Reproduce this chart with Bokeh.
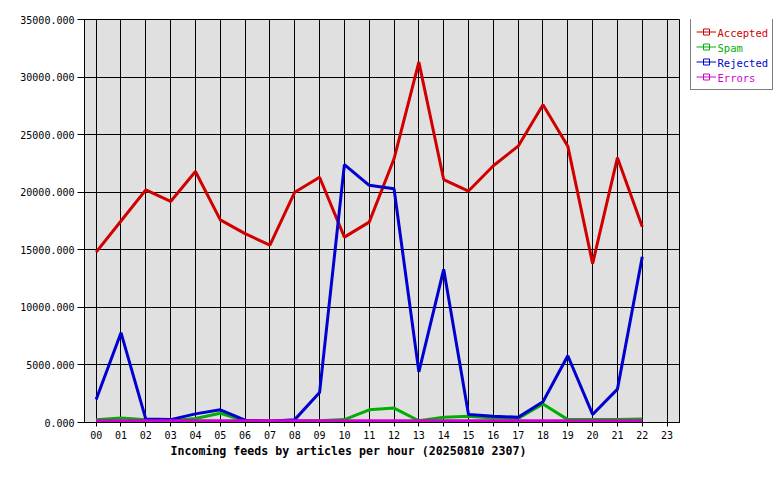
from bokeh.plotting import figure
from bokeh.layouts import row
from bokeh.models import (Range1d, FixedTicker, PrintfTickFormatter, Legend, LegendItem, Label, Title)
from bokeh.embed import file_html
from bokeh.resources import INLINE

hours = ["00", "01", "02", "03", "04", "05", "06", "07", "08", "09", "10", "11",
         "12", "13", "14", "15", "16", "17", "18", "19", "20", "21", "22", "23"]
hour_idx = list(range(23))

accepted = [14800, 17500, 20200, 19200, 21800, 17600, 16400, 15400, 20000, 21300, 16100, 17400,
            22900, 31300, 21100, 20100, 22300, 24000, 27600, 24000, 13800, 23000, 17000]
spam = [250, 400, 250, 150, 350, 800, 150, 100, 150, 150, 250, 1100,
        1250, 150, 450, 550, 400, 350, 1600, 250, 250, 250, 300]
rejected = [2000, 7800, 300, 250, 750, 1100, 200, 100, 250, 2600, 22400, 20600,
            20300, 4400, 13300, 700, 550, 450, 1800, 5800, 700, 2900, 14400]
errors = [150, 150, 150, 150, 150, 150, 150, 150, 150, 150, 150, 150,
          150, 150, 150, 150, 150, 150, 150, 150, 150, 150, 150]

series_names = ["Accepted", "Spam", "Rejected", "Errors"]
series_colors = ["#d00000", "#00b000", "#0000d0", "#d000d0"]
series_values = [accepted, spam, rejected, errors]
y_ticks = [0, 5000, 10000, 15000, 20000, 25000, 30000, 35000]
x_title = "Incoming feeds by articles per hour (20250810 2307)"

FONT = "DejaVu Sans Mono"
H = 478
TOP = 19
BOTTOM = H - 422
FH = H - TOP - BOTTOM  # frame height

p = figure(width=680, height=H, output_backend="svg", toolbar_location=None,
           x_range=Range1d(-0.47, 23.54), y_range=Range1d(0, 35000),
           min_border_left=84, min_border_right=0, min_border_top=TOP, min_border_bottom=BOTTOM)
p.background_fill_color = "#e0e0e0"
p.border_fill_color = "white"
p.outline_line_color = "black"
p.outline_line_width = 1
p.outline_line_alpha = 1

xt = FixedTicker(ticks=list(range(len(hours))))
yt = FixedTicker(ticks=y_ticks)
p.xaxis.ticker = xt
p.yaxis.ticker = yt
p.xgrid.ticker = xt
p.ygrid.ticker = yt
for g in (p.xgrid[0], p.ygrid[0]):
    g.grid_line_color = "black"
    g.grid_line_alpha = 1
    g.grid_line_width = 1

p.xaxis.major_label_overrides = {i: h for i, h in enumerate(hours)}
p.yaxis.formatter = PrintfTickFormatter(format="%.3f")
for ax in (p.xaxis[0], p.yaxis[0]):
    ax.axis_line_color = "black"
    ax.major_tick_line_color = "black"
    ax.minor_tick_line_color = None
    ax.major_tick_in = 0
    ax.major_label_text_font = FONT
    ax.major_label_text_font_size = "10px"
    ax.major_label_text_color = "black"
p.xaxis.major_tick_out = 4
p.xaxis.major_label_standoff = 4
p.yaxis.major_tick_out = 7
p.yaxis.major_label_standoff = 3

for name, color, vals in zip(series_names, series_colors, series_values):
    p.line(hour_idx, vals, line_color=color, line_width=3)

p.add_layout(Title(text=x_title, align="left", offset=86, standoff=0,
                   text_font=FONT, text_font_size="11.6px", text_font_style="bold",
                   text_color="black"), "below")

# legend panel to the right of the plot
q = figure(width=100, height=H, output_backend="svg", toolbar_location=None,
           x_range=Range1d(0, 1), y_range=Range1d(0, 1),
           min_border_left=0, min_border_right=0, min_border_top=TOP, min_border_bottom=BOTTOM,
           x_axis_type=None, y_axis_type=None)
q.outline_line_color = None
q.background_fill_color = "white"
q.border_fill_color = "white"
q.xgrid.visible = False
q.ygrid.visible = False

items = []
for name, color in zip(series_names, series_colors):
    # legend-only renderers, their points lie outside q's visible range
    l = q.line([-5, -4], [-5, -4], line_color=color, line_width=1)
    s = q.scatter([-5], [-5], marker="square", size=3, line_color=color, fill_color=None)
    items.append(LegendItem(label=name, renderers=[l, s]))

legend = Legend(items=items, location=(10, FH - 71), margin=0, padding=5, spacing=0,
                glyph_width=20, glyph_height=15, label_height=15, label_standoff=3,
                label_width=48,
                label_text_font=FONT, label_text_font_size="10px", label_text_alpha=0,
                border_line_color="black", border_line_width=1,
                background_fill_alpha=0)
q.add_layout(legend)

for i, (name, color) in enumerate(zip(series_names, series_colors)):
    q.add_layout(Label(x=37, y=FH - 13 - 15 * i, x_units="screen", y_units="screen", text=name,
                       text_font=FONT, text_font_size="10.5px", text_color=color,
                       text_baseline="middle", text_align="left"))

layout = row(p, q, spacing=0)
open("out.html", "w").write(file_html(layout, INLINE))
